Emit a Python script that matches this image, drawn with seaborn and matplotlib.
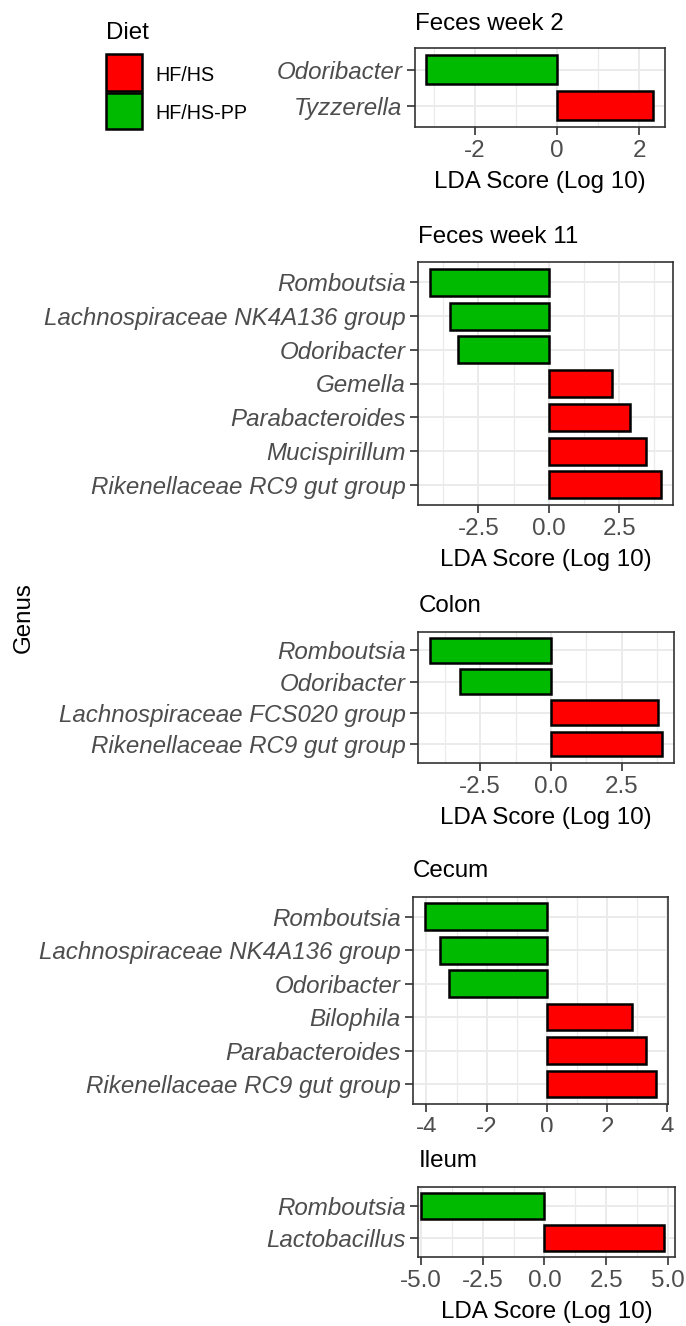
import matplotlib
matplotlib.use('Agg')
import matplotlib.pyplot as plt
from matplotlib.patches import Rectangle
from matplotlib.ticker import FixedLocator, FixedFormatter
import seaborn as sns
import pandas as pd

# data (LDA score, log10)
panel_titles = ["Feces week 2", "Feces week 11", "Colon", "Cecum", "Ileum"]

fw2_genus = ["Odoribacter", "Tyzzerella"]
fw2_lda = [-3.18, 2.34]

fw11_genus = ["Romboutsia", "Lachnospiraceae NK4A136 group", "Odoribacter", "Gemella",
              "Parabacteroides", "Mucispirillum", "Rikenellaceae RC9 gut group"]
fw11_lda = [-4.23, -3.52, -3.23, 2.23, 2.90, 3.44, 4.00]

colon_genus = ["Romboutsia", "Odoribacter", "Lachnospiraceae FCS020 group",
               "Rikenellaceae RC9 gut group"]
colon_lda = [-4.27, -3.22, 3.78, 3.93]

cecum_genus = ["Romboutsia", "Lachnospiraceae NK4A136 group", "Odoribacter", "Bilophila",
               "Parabacteroides", "Rikenellaceae RC9 gut group"]
cecum_lda = [-4.06, -3.54, -3.26, 2.82, 3.29, 3.64]

ileum_genus = ["Romboutsia", "Lactobacillus"]
ileum_lda = [-5.00, 4.84]

diet_levels = ["HF/HS", "HF/HS-PP"]
diet_colors = {"HF/HS": "#FF0000", "HF/HS-PP": "#00BA00"}

x_ticks = [[-2, 0, 2], [-2.5, 0, 2.5], [-2.5, 0, 2.5], [-4, -2, 0, 2, 4], [-5, -2.5, 0, 2.5, 5]]
x_fmt = ["%g", "%.1f", "%.1f", "%g", "%.1f"]

W, H = 686, 1326
# axes boxes in pixels: left, right, top, bottom
boxes = [(415, 664.5, 48.3, 127.3),
         (418, 673, 262, 505),
         (418.3, 674, 631.7, 762.7),
         (413, 668, 896.7, 1104),
         (418.3, 675, 1186.7, 1257.3)]
title_base = [30, 243, 612, 877, 1167]
show_xlabel = [True, True, True, False, True]
FS = 17.4

plt.rcParams['font.family'] = ['Liberation Sans', 'DejaVu Sans']
plt.rcParams['axes.unicode_minus'] = False

fig = plt.figure(figsize=(W / 100, H / 100), dpi=100)


def px_rect(l, r, t, b):
    return [l / W, 1 - b / H, (r - l) / W, (b - t) / H]


panels = [(fw2_genus, fw2_lda), (fw11_genus, fw11_lda), (colon_genus, colon_lda),
          (cecum_genus, cecum_lda), (ileum_genus, ileum_lda)]

for i, (genus, lda) in enumerate(panels):
    df = pd.DataFrame({'genus': genus, 'lda': lda})
    df['diet'] = ["HF/HS-PP" if v < 0 else "HF/HS" for v in lda]

    ax = fig.add_axes(px_rect(*boxes[i]))
    sns.barplot(data=df, x='lda', y='genus', hue='diet', order=genus, hue_order=diet_levels,
                palette=diet_colors, saturation=1, dodge=False, orient='h', errorbar=None,
                edgecolor='black', linewidth=1.8, width=0.8, legend=False, ax=ax)

    lo, hi = min(lda), max(lda)
    pad = 0.05 * (hi - lo)
    if i == 4:
        ax.set_xlim(-5.10, 5.28)
    else:
        ax.set_xlim(lo - pad, hi + pad)
    ax.set_ylim(len(genus) - 0.4, -0.6)

    ticks = x_ticks[i]
    ax.xaxis.set_major_locator(FixedLocator(ticks))
    ax.xaxis.set_major_formatter(FixedFormatter([x_fmt[i] % t for t in ticks]))
    step = ticks[1] - ticks[0]
    minors = [ticks[0] - step / 2] + [t + step / 2 for t in ticks]
    ax.xaxis.set_minor_locator(FixedLocator(minors))

    ax.set_facecolor('white')
    ax.set_axisbelow(True)
    ax.grid(which='major', axis='both', color='#EBEBEB', linewidth=1.4)
    ax.grid(which='minor', axis='x', color='#EBEBEB', linewidth=0.9)
    for sp in ax.spines.values():
        sp.set_color('#333333')
        sp.set_linewidth(1.2)
    ax.tick_params(axis='both', which='major', length=5.5, width=1.2, color='#333333',
                   labelcolor='#4D4D4D', labelsize=FS)
    ax.tick_params(axis='x', which='major', pad=4)
    ax.tick_params(axis='y', which='major', pad=3.5)
    ax.tick_params(which='minor', length=0)
    for lab in ax.get_yticklabels():
        lab.set_fontstyle('italic')
    ax.set_xlabel('')
    ax.set_ylabel('')

# overlay for titles, legend and shared labels, in pixel units
ov = fig.add_axes([0, 0, 1, 1])
ov.set_xlim(0, W)
ov.set_ylim(H, 0)
ov.axis('off')

for i, t in enumerate(panel_titles):
    ov.text(boxes[i][0], title_base[i], t, fontsize=FS, color='black', ha='left', va='baseline')
    if show_xlabel[i]:
        cx = (boxes[i][0] + boxes[i][1]) / 2
        ov.text(cx, boxes[i][3] + 61, "LDA Score (Log 10)", fontsize=FS, color='black',
                ha='center', va='baseline')

# the cecum tick labels are cut off in the reference
ov.add_patch(Rectangle((380, 1132), 306, 14, facecolor='white', edgecolor='none'))

ov.text(24, 618, "Genus", fontsize=FS, rotation=90, ha='center', va='center', color='black')

# legend
ov.text(106, 39.3, "Diet", fontsize=FS, ha='left', va='baseline', color='black')
key_top = [54.3, 92.7]
for lvl, kt in zip(diet_levels, key_top):
    ov.add_patch(Rectangle((106, kt), 36.3, 36.5, facecolor=diet_colors[lvl],
                           edgecolor='black', linewidth=1.8))
    ov.text(155.7, kt + 26.5, lvl, fontsize=14.2, ha='left', va='baseline', color='black')

fig.savefig('out.png', dpi=100)
